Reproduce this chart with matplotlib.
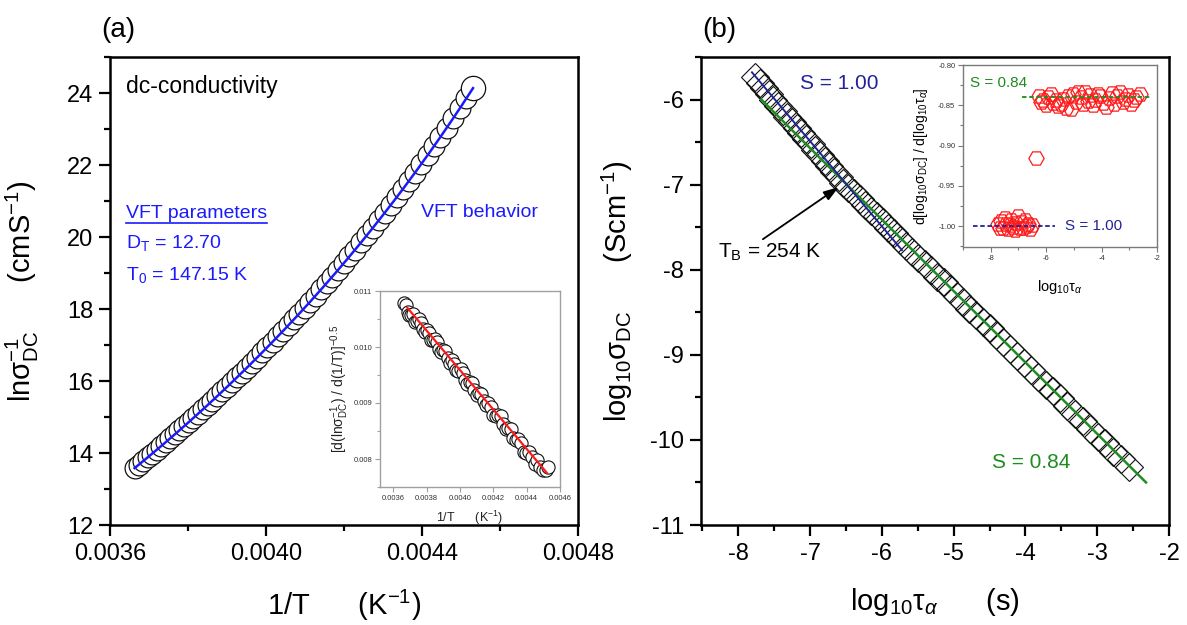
import numpy as np
import matplotlib
matplotlib.use("Agg")
import matplotlib.pyplot as plt
from matplotlib.ticker import MultipleLocator, FormatStrFormatter
from matplotlib.lines import Line2D

plt.rcParams['font.family'] = ['Liberation Sans', 'DejaVu Sans']
plt.rcParams['mathtext.fontset'] = 'custom'
plt.rcParams['mathtext.rm'] = 'Liberation Sans'
plt.rcParams['mathtext.it'] = 'Liberation Sans:italic'
plt.rcParams['mathtext.bf'] = 'Liberation Sans:bold'
plt.rcParams['axes.unicode_minus'] = False

# ---------------- data: panel (a) ----------------
inv_T = [0.0036630, 0.0036742, 0.0036854, 0.0036967, 0.0037081, 0.0037195, 0.0037311, 0.0037426,
         0.0037543, 0.0037660, 0.0037779, 0.0037897, 0.0038017, 0.0038137, 0.0038259, 0.0038380,
         0.0038503, 0.0038626, 0.0038751, 0.0038876, 0.0039002, 0.0039128, 0.0039256, 0.0039384,
         0.0039513, 0.0039643, 0.0039774, 0.0039906, 0.0040038, 0.0040172, 0.0040306, 0.0040442,
         0.0040578, 0.0040715, 0.0040853, 0.0040992, 0.0041132, 0.0041273, 0.0041415, 0.0041558,
         0.0041701, 0.0041846, 0.0041992, 0.0042139, 0.0042287, 0.0042436, 0.0042586, 0.0042737,
         0.0042889, 0.0043042, 0.0043197, 0.0043352, 0.0043509, 0.0043666, 0.0043825, 0.0043985,
         0.0044146, 0.0044308, 0.0044472, 0.0044637, 0.0044803, 0.0044970, 0.0045138, 0.0045308]
ln_inv_sigma = [13.58, 13.68, 13.78, 13.88, 13.98, 14.09, 14.19, 14.30,
                14.41, 14.52, 14.63, 14.74, 14.86, 14.97, 15.09, 15.21,
                15.33, 15.45, 15.58, 15.71, 15.84, 15.97, 16.10, 16.23,
                16.37, 16.51, 16.65, 16.80, 16.94, 17.09, 17.24, 17.40,
                17.55, 17.71, 17.87, 18.04, 18.20, 18.37, 18.55, 18.72,
                18.90, 19.08, 19.27, 19.46, 19.65, 19.85, 20.05, 20.25,
                20.46, 20.67, 20.89, 21.11, 21.33, 21.56, 21.79, 22.03,
                22.28, 22.52, 22.78, 23.04, 23.30, 23.57, 23.85, 24.14]
# VFT fit parameters (shown on the chart) and offset
VFT_D = 12.70
VFT_T0 = 147.15
VFT_A = -1.27

# inset (a): derivative analysis
deriv_a = [0.010778, 0.010748, 0.010628, 0.010567, 0.010567, 0.010596, 0.010454, 0.010463,
           0.010501, 0.010429, 0.010327, 0.010264, 0.010311, 0.010249, 0.010125, 0.010132,
           0.010147, 0.010083, 0.009969, 0.009904, 0.009949, 0.009934, 0.009808, 0.009712,
           0.009776, 0.009699, 0.009592, 0.009565, 0.009608, 0.009540, 0.009412, 0.009343,
           0.009375, 0.009356, 0.009226, 0.009136, 0.009186, 0.009166, 0.009035, 0.008964,
           0.009003, 0.008921, 0.008788, 0.008766, 0.008783, 0.008759, 0.008626, 0.008532,
           0.008557, 0.008533, 0.008377, 0.008342, 0.008355, 0.008279, 0.008132, 0.008105,
           0.008117, 0.008029, 0.007911, 0.007982, 0.007862, 0.007802, 0.007812, 0.007860]
fit_a_x = [0.003684, 0.004522]
fit_a_y = [0.01070, 0.00775]

# ---------------- data: panel (b) ----------------
log_tau = [-7.77, -7.705, -7.64, -7.575, -7.51, -7.445, -7.38, -7.315,
           -7.25, -7.185, -7.12, -7.055, -6.99, -6.925, -6.86, -6.795,
           -6.73, -6.665, -6.60, -6.535, -6.47, -6.39, -6.31, -6.23,
           -6.15, -6.07, -5.99, -5.91, -5.83, -5.745, -5.66, -5.575,
           -5.49, -5.405, -5.32, -5.23, -5.14, -5.05, -4.96, -4.87,
           -4.78, -4.69, -4.595, -4.50, -4.405, -4.31, -4.215, -4.12,
           -4.02, -3.92, -3.82, -3.72, -3.62, -3.52, -3.415, -3.31,
           -3.205, -3.10, -2.995, -2.89, -2.78, -2.67, -2.56]
log_sigma = [-5.74, -5.81, -5.87, -5.94, -6.00, -6.07, -6.13, -6.20,
             -6.26, -6.33, -6.39, -6.46, -6.52, -6.59, -6.65, -6.72,
             -6.78, -6.85, -6.91, -6.98, -7.04, -7.10, -7.17, -7.24,
             -7.31, -7.37, -7.44, -7.51, -7.57, -7.65, -7.72, -7.79,
             -7.86, -7.93, -8.00, -8.08, -8.15, -8.23, -8.31, -8.38,
             -8.46, -8.53, -8.61, -8.69, -8.77, -8.85, -8.93, -9.01,
             -9.10, -9.18, -9.26, -9.35, -9.43, -9.51, -9.60, -9.69,
             -9.78, -9.87, -9.96, -10.04, -10.14, -10.23, -10.32]
fit_s1_x = [-7.81, -5.72]
fit_s1_y = [-5.68, -7.77]
fit_s084_x = [-7.68, -2.32]
fit_s084_y = [-6.00, -10.50]

# inset (b): local slope
deriv_tau = [-7.74, -7.68, -7.62, -7.56, -7.50, -7.44, -7.38, -7.32, -7.26, -7.20, -7.14,
             -7.08, -7.02, -6.96, -6.90, -6.84, -6.78, -6.72, -6.66, -6.60, -6.52,
             -6.35,
             -6.25, -6.18, -6.10, -6.02, -5.93, -5.84, -5.75, -5.66, -5.57, -5.48,
             -5.39, -5.30, -5.21, -5.12, -5.03, -4.94, -4.85, -4.76, -4.67, -4.58,
             -4.49, -4.40, -4.31, -4.22, -4.13, -4.04, -3.94, -3.84, -3.74, -3.64,
             -3.54, -3.44, -3.34, -3.24, -3.14, -3.04, -2.94, -2.84, -2.74, -2.60]
deriv_slope = [-0.998, -1.002, -0.994, -1.003, -0.990, -0.997, -1.004, -0.999, -0.992, -1.001, -1.005,
               -0.996, -0.988, -1.002, -0.995, -1.003, -0.993, -1.000, -0.997, -1.004, -0.999,
               -0.915,
               -0.838, -0.846, -0.843, -0.850, -0.840, -0.836, -0.847, -0.844, -0.851, -0.849,
               -0.842, -0.853, -0.838, -0.855, -0.836, -0.846, -0.834, -0.840, -0.848, -0.833,
               -0.845, -0.837, -0.850, -0.843, -0.836, -0.839, -0.847, -0.852, -0.841, -0.835,
               -0.848, -0.838, -0.834, -0.846, -0.842, -0.837, -0.849, -0.844, -0.840, -0.836]
level_s084 = -0.84
level_s084_x = [-6.88, -2.19]
level_s1 = -1.00
level_s1_x = [-8.65, -5.69]

# ---------------- styling ----------------
BLUE = '#1a1aff'
NAVY = '#22229a'
GREEN = '#1f8c1f'
RED = '#ff1a1a'

fig = plt.figure(figsize=(11.87, 6.25), dpi=100)

def style_main(ax):
    for s in ax.spines.values():
        s.set_linewidth(1.8)
    ax.tick_params(which='both', direction='out', top=False, right=False, labelsize=17, width=1.6)
    ax.tick_params(which='major', length=8)
    ax.tick_params(which='minor', length=4.5)
    ax.tick_params(axis='x', pad=5)
    ax.tick_params(axis='y', pad=4)

def style_inset(ax, color, fs):
    for s in ax.spines.values():
        s.set_linewidth(1.0)
        s.set_edgecolor(color)
    ax.tick_params(which='both', direction='out', top=False, right=False, labelsize=fs,
                   width=0.8, color=color, labelcolor='#333333', pad=2)
    ax.tick_params(which='major', length=3.5)
    ax.tick_params(which='minor', length=2)

# ---- panel (a) ----
axA = fig.add_axes([110/1187, 100/625, 468/1187, 468/625])
style_main(axA)
axA.plot(inv_T, ln_inv_sigma, 'o', ms=15, mfc='white', mec='#111111', mew=0.9, zorder=2)
axA.plot(inv_T[-1:], ln_inv_sigma[-1:], 'o', ms=17.5, mfc='white', mec='#111111', mew=0.9, zorder=2)
T_fit = np.linspace(1 / inv_T[0], 1 / inv_T[-1], 300)
axA.plot(1 / T_fit, VFT_A + VFT_D * VFT_T0 / (T_fit - VFT_T0), color=BLUE, lw=1.8, zorder=3)
axA.set_xlim(0.0036, 0.0048)
axA.set_ylim(12, 25)
axA.xaxis.set_major_locator(MultipleLocator(0.0004))
axA.xaxis.set_minor_locator(MultipleLocator(0.0002))
axA.xaxis.set_major_formatter(FormatStrFormatter('%.4f'))
axA.yaxis.set_major_locator(MultipleLocator(2))
axA.yaxis.set_minor_locator(MultipleLocator(1))
axA.set_xlabel(r'1/T      (K$^{\mathregular{-1}}$)', fontsize=21)
axA.xaxis.set_label_coords(0.5, -0.135)
axA.set_ylabel(r'ln$\mathregular{\sigma^{-1}_{DC}}$      (cmS$^{\mathregular{-1}}$)', fontsize=21)
axA.yaxis.set_label_coords(-0.148, 0.5)

axA.text(0.034, 0.923, 'dc-conductivity', transform=axA.transAxes, fontsize=16.5, va='baseline')
t_vft = axA.text(0.034, 0.656, 'VFT parameters', transform=axA.transAxes, fontsize=14,
                 va='baseline', color=BLUE)
axA.text(0.034, 0.592, r'D$_{\mathregular{T}}$ = 12.70', transform=axA.transAxes, fontsize=14,
         va='baseline', color=BLUE)
axA.text(0.034, 0.5235, r'T$_{\mathregular{0}}$ = 147.15 K', transform=axA.transAxes, fontsize=14,
         va='baseline', color=BLUE)
axA.text(0.665, 0.658, 'VFT behavior', transform=axA.transAxes, fontsize=14,
         va='baseline', color=BLUE)
fig.text(101/1187, 1 - 37/625, '(a)', fontsize=20, va='baseline')

# ---- inset (a) ----
axIa = fig.add_axes([380/1187, (625-487)/625, 180/1187, 196/625])
style_inset(axIa, '#a0a0a0', 5.5)
axIa.plot(inv_T, deriv_a, 'o', ms=9.5, mfc='white', mec='#111111', mew=0.8, zorder=2)
axIa.plot(fit_a_x, fit_a_y, color=RED, lw=1.6, zorder=3)
axIa.set_xlim(0.00352, 0.0046)
axIa.set_ylim(0.0075, 0.011)
axIa.xaxis.set_major_locator(MultipleLocator(0.0002))
axIa.xaxis.set_major_formatter(FormatStrFormatter('%.4f'))
axIa.yaxis.set_major_locator(MultipleLocator(0.001))
axIa.yaxis.set_minor_locator(MultipleLocator(0.0005))
axIa.yaxis.set_major_formatter(FormatStrFormatter('%.3f'))
axIa.set_xlabel(r'1/T      (K$^{\mathregular{-1}}$)', fontsize=9, color='#222222')
axIa.xaxis.set_label_coords(0.5, -0.11)
axIa.set_ylabel(r'[d(ln$\mathregular{\sigma^{-1}_{DC}}$) / d(1/T)]$^{\mathregular{-0.5}}$',
                fontsize=10, color='#222222')
axIa.yaxis.set_label_coords(-0.16, 0.5)

# ---- panel (b) ----
axB = fig.add_axes([701/1187, 100/625, 468/1187, 468/625])
style_main(axB)
axB.plot(log_tau, log_sigma, 'D', ms=14, mfc='none', mec='#111111', mew=0.8, zorder=2)
axB.plot(fit_s084_x, fit_s084_y, color=GREEN, lw=1.8, zorder=3)
axB.plot(fit_s1_x, fit_s1_y, color=NAVY, lw=1.4, zorder=3)
axB.set_xlim(-8.52, -2)
axB.set_ylim(-11, -5.5)
axB.xaxis.set_major_locator(MultipleLocator(1))
axB.xaxis.set_minor_locator(MultipleLocator(0.5))
axB.yaxis.set_major_locator(MultipleLocator(1))
axB.yaxis.set_minor_locator(MultipleLocator(0.5))
axB.set_xlabel(r'$\mathregular{log_{10}\tau}_{\alpha}$      (s)', fontsize=21)
axB.xaxis.set_label_coords(0.5, -0.13)
axB.set_ylabel(r'$\mathregular{log_{10}\sigma_{DC}}$      (Scm$^{\mathregular{-1}}$)', fontsize=21)
axB.yaxis.set_label_coords(-0.14, 0.5)

axB.text(-7.14, -5.88, 'S = 1.00', fontsize=15, color=NAVY, va='baseline')
axB.text(-4.47, -10.33, 'S = 0.84', fontsize=15, color=GREEN, va='baseline')
axB.text(-8.29, -7.86, r'T$_{\mathregular{B}}$ = 254 K', fontsize=15, va='baseline')
axB.annotate('', xy=(-6.57, -7.01), xytext=(-7.69, -7.66),
             arrowprops=dict(arrowstyle='-|>,head_length=0.9,head_width=0.3', color='black', lw=1.3))
fig.text(702/1187, 1 - 37/625, '(b)', fontsize=20, va='baseline')

# ---- inset (b) ----
axIb = fig.add_axes([963/1187, (625-247)/625, 194/1187, 182/625])
style_inset(axIb, '#7a7a7a', 5.5)
axIb.plot(deriv_tau, deriv_slope, 'H', ms=11, mfc='none', mec=RED, mew=0.9, zorder=2)
axIb.plot(level_s084_x, [level_s084, level_s084], color=GREEN, lw=1.3, ls=(0, (2.5, 1.5)), zorder=3)
axIb.plot(level_s1_x, [level_s1, level_s1], color=NAVY, lw=1.3, ls=(0, (2.5, 1.5)), zorder=3)
axIb.set_xlim(-9, -2)
axIb.set_ylim(-1.026, -0.80)
axIb.xaxis.set_major_locator(MultipleLocator(2))
axIb.xaxis.set_minor_locator(MultipleLocator(1))
axIb.yaxis.set_major_locator(MultipleLocator(0.05))
axIb.yaxis.set_minor_locator(MultipleLocator(0.025))
axIb.yaxis.set_major_formatter(FormatStrFormatter('%.2f'))
axIb.text(-8.75, -0.827, 'S = 0.84', fontsize=11, color=GREEN, va='baseline')
axIb.text(-5.32, -1.0, 'S = 1.00', fontsize=11, color=NAVY, va='center')
axIb.set_xlabel(r'$\mathregular{log_{10}\tau}_{\alpha}$', fontsize=10.5)
axIb.xaxis.set_label_coords(0.5, -0.17)
axIb.set_ylabel(r'd[$\mathregular{log_{10}\sigma_{DC}}$] / d[$\mathregular{log_{10}\tau}_{\alpha}$]',
                fontsize=10)
axIb.yaxis.set_label_coords(-0.17, 0.5)

# underline for "VFT parameters"
fig.canvas.draw()
r = fig.canvas.get_renderer()
bb = t_vft.get_window_extent(renderer=r)
inv = fig.transFigure.inverted()
(x0, y0), (x1, y1) = inv.transform([[bb.x0, bb.y0], [bb.x1, bb.y1]])
fig.add_artist(Line2D([x0, x1], [y0 - 0.002, y0 - 0.002], color=BLUE, lw=1.2,
                      transform=fig.transFigure))

fig.savefig('out.png', dpi=100)
